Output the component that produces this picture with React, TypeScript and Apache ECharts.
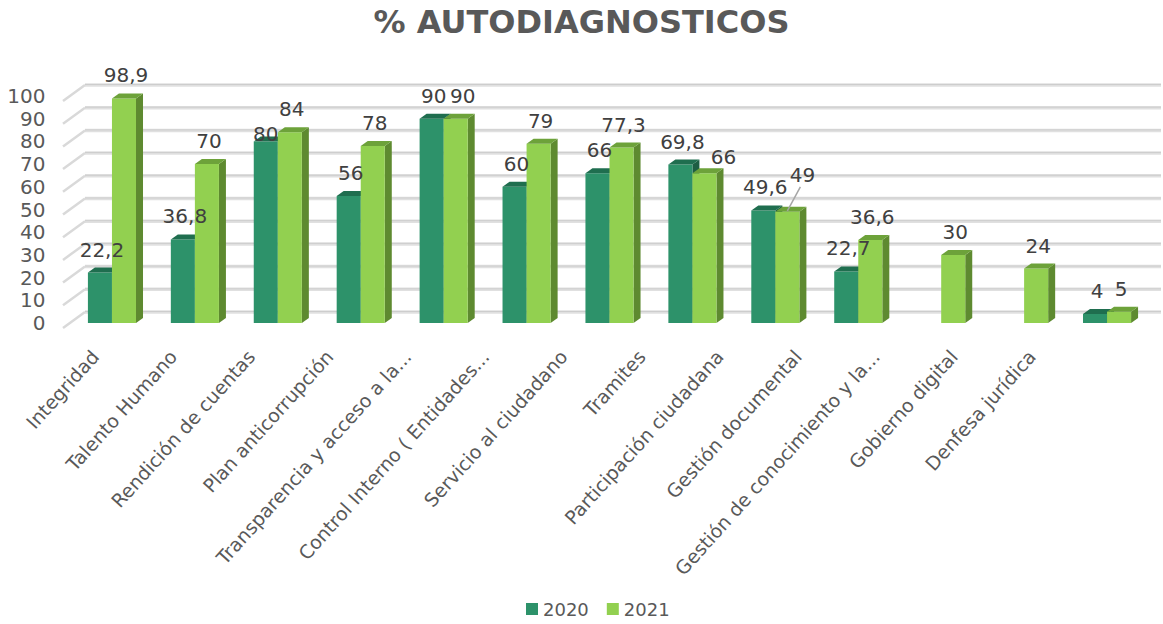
import React, { useEffect, useRef } from "react";
import * as echarts from "echarts";

const categories = [
  "Integridad",
  "Talento Humano",
  "Rendición de cuentas",
  "Plan anticorrupción",
  "Transparencia y acceso a la...",
  "Control Interno ( Entidades...",
  "Servicio al ciudadano",
  "Tramites",
  "Participación ciudadana",
  "Gestión documental",
  "Gestión de conocimiento y la...",
  "Gobierno digital",
  "Denfesa jurídica",
];
const values2020: (number | null)[] = [22.2, 36.8, 80, 56, 90, 60, 66, 69.8, 49.6, 22.7, null, null, 4];
const values2021: (number | null)[] = [98.9, 70, 84, 78, 90, 79, 77.3, 66, 49, 36.6, 30, 24, 5];
const yTicks = [0, 10, 20, 30, 40, 50, 60, 70, 80, 90, 100];
const seriesNames = ["2020", "2021"];

const FONT = "'DejaVu Sans', Verdana, sans-serif";
const TEXT = "#595959";
const LABEL = "#404040";

const palette = [
  { front: "#2d926a", top: "#1f6e4f", side: "#1d5e43" },
  { front: "#92d050", top: "#6da23a", side: "#5e8a30" },
];

// label nudges (series-category): [dx, dy, leaderLine]
const labelNudge: Record<string, [number, number, boolean]> = {
  "0-2": [-2, 16, false],
  "1-4": [5, 0, false],
  "1-7": [17, 7, false],
  "1-8": [13, -14, true],
};

const DX = 7;
const DY = 5;
const BAR_RATIO = 0.29;

const fmt = (v: number) => String(v).replace(".", ",");

function toData(vals: (number | null)[]) {
  const out: number[][] = [];
  vals.forEach((v, i) => {
    if (v !== null) out.push([i, v]);
  });
  return out;
}

export default function App() {
  const ref = useRef<HTMLDivElement>(null);
  useEffect(() => {
    if (!ref.current) return;
    const chart = echarts.init(ref.current, undefined, { renderer: "svg" });

    const barSeries = (s: number) => ({
      type: "custom",
      name: seriesNames[s],
      xAxisIndex: 0,
      yAxisIndex: 0,
      z: 3,
      itemStyle: { color: palette[s].front },
      data: toData(s === 0 ? values2020 : values2021),
      renderItem: (params: any, api: any) => {
        const idx = api.value(0);
        const v = api.value(1);
        const c0 = api.coord([idx, 0]);
        const c1 = api.coord([idx, v]);
        const band = api.size([1, 0])[0];
        const bw = band * BAR_RATIO;
        const x = s === 0 ? c0[0] - bw : c0[0];
        const yT = c1[1];
        const yB = c0[1];
        const col = palette[s];
        return {
          type: "group",
          children: [
            {
              type: "polygon",
              shape: { points: [[x + bw, yT], [x + bw + DX, yT - DY], [x + bw + DX, yB - DY], [x + bw, yB]] },
              style: { fill: col.side },
            },
            {
              type: "rect",
              shape: { x, y: yT, width: bw, height: yB - yT },
              style: { fill: col.front },
            },
            {
              type: "polygon",
              shape: { points: [[x, yT], [x + DX, yT - DY], [x + bw + DX, yT - DY], [x + bw, yT]] },
              style: { fill: col.top },
            },
          ],
        };
      },
    });

    const labelSeries = (s: number) => ({
      type: "custom",
      name: seriesNames[s] + " labels",
      xAxisIndex: 0,
      yAxisIndex: 0,
      z: 10,
      silent: true,
      data: toData(s === 0 ? values2020 : values2021),
      renderItem: (params: any, api: any) => {
        const idx = api.value(0);
        const v = api.value(1);
        const c0 = api.coord([idx, 0]);
        const c1 = api.coord([idx, v]);
        const band = api.size([1, 0])[0];
        const bw = band * BAR_RATIO;
        const x = s === 0 ? c0[0] - bw : c0[0];
        const nudge = labelNudge[s + "-" + idx] || [0, 0, false];
        const lx = x + bw / 2 + 2 + nudge[0];
        const ly = c1[1] - 23 + nudge[1];
        const children: any[] = [
          {
            type: "text",
            x: lx,
            y: ly,
            style: {
              text: fmt(v),
              fill: LABEL,
              font: `20px ${FONT}`,
              align: "center",
              verticalAlign: "middle",
            },
          },
        ];
        if (nudge[2]) {
          children.push({
            type: "line",
            shape: { x1: lx - 2, y1: ly + 12, x2: x + bw / 2, y2: c1[1] - 1 },
            style: { stroke: "#a6a6a6", lineWidth: 1.5 },
          });
        }
        return { type: "group", children };
      },
    });

    const wallSeries = {
      type: "custom",
      name: "wall",
      xAxisIndex: 0,
      yAxisIndex: 0,
      z: 1,
      silent: true,
      data: yTicks.map((v) => [0, v]),
      renderItem: (params: any, api: any) => {
        const v = api.value(1);
        const c = api.coord([0, v]);
        const band = api.size([1, 0])[0];
        const left = c[0] - band / 2;
        const y = c[1];
        const W = api.getWidth();
        return {
          type: "group",
          children: [
            {
              type: "line",
              shape: { x1: left + 14.5, y1: y - 11, x2: W - 2, y2: y - 11 },
              style: { stroke: "#e0e0e0", lineWidth: 3.5 },
            },
            {
              type: "line",
              shape: { x1: left + 14.5, y1: y - 11.5, x2: W - 2, y2: y - 11.5 },
              style: { stroke: "#cdcdcd", lineWidth: 1 },
            },
            {
              type: "line",
              shape: { x1: left - 7.5, y1: y + 5, x2: left + 14.5, y2: y - 11 },
              style: { stroke: "#d9d9d9", lineWidth: 2.5 },
            },
          ],
        };
      },
    };

    chart.setOption({
      animation: false,
      backgroundColor: "#ffffff",
      title: {
        text: "% AUTODIAGNOSTICOS",
        left: "center",
        top: 1,
        textStyle: { fontFamily: FONT, fontSize: 32, fontWeight: "bold", color: TEXT },
      },
      legend: {
        data: seriesNames,
        bottom: 1,
        left: 521,
        icon: "rect",
        itemWidth: 12,
        itemHeight: 12,
        itemGap: 18,
        textStyle: { fontFamily: FONT, fontSize: 18, color: TEXT },
      },
      grid: [
        { left: 70.5, right: 14.5, top: 96, bottom: 301 },
        { left: 56, right: 92, top: 96, bottom: 301 },
      ],
      xAxis: [
        {
          type: "category",
          gridIndex: 0,
          data: categories,
          axisLine: { show: false },
          axisTick: { show: false },
          axisLabel: { show: false },
        },
        {
          type: "category",
          gridIndex: 1,
          data: categories,
          axisLine: { show: false },
          axisTick: { show: false },
          axisLabel: {
            rotate: 48,
            interval: 0,
            margin: 30,
            fontFamily: FONT,
            fontSize: 19,
            color: TEXT,
          },
        },
      ],
      yAxis: [
        {
          type: "value",
          gridIndex: 0,
          min: 0,
          max: 100,
          interval: 10,
          axisLine: { show: false },
          axisTick: { show: false },
          splitLine: { show: false },
          axisLabel: {
            margin: 25,
            fontFamily: FONT,
            fontSize: 20,
            color: TEXT,
            padding: [8, 0, 0, 0],
          },
        },
        {
          type: "value",
          gridIndex: 1,
          min: 0,
          max: 100,
          show: false,
        },
      ],
      series: [wallSeries, barSeries(0), barSeries(1), labelSeries(0), labelSeries(1)],
    });
    return () => chart.dispose();
  }, []);

  return (
    <div
      ref={ref}
      style={{ position: "fixed", left: 0, top: 0, width: 1163, height: 624, background: "#fff" }}
    />
  );
}
